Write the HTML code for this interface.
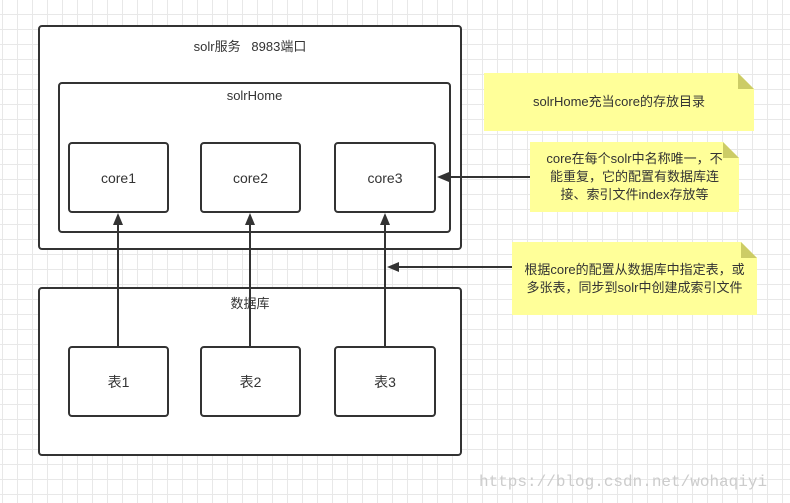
<!DOCTYPE html>
<html><head><meta charset="utf-8"><style>
body{margin:0;width:790px;height:503px;overflow:hidden;background:#fff;
background-image:linear-gradient(to right,#e8e8e8 1px,transparent 1px),linear-gradient(to bottom,#e8e8e8 1px,transparent 1px);
background-size:15px 15px;background-position:2px 14px;position:relative;
font-family:"Liberation Sans","Noto Sans CJK SC",sans-serif;color:#333;font-size:13px}
.b{position:absolute;border:2px solid #333;border-radius:4px;background:#fff;box-sizing:border-box}
.t{position:absolute;left:0;right:0;text-align:center}
.c{display:flex;align-items:center;justify-content:center;font-size:14px}
.n{position:absolute;background:#ffff99;box-sizing:border-box;display:flex;align-items:center;justify-content:center;text-align:center;font-size:13px;line-height:18px;color:#333;clip-path:polygon(0 0,calc(100% - 16px) 0,100% 16px,100% 100%,0 100%);white-space:nowrap}
.f{position:absolute;width:0;height:0;border-left:16px solid #cccc66;border-top:16px solid transparent}
</style></head><body>
<div class="b" style="left:38px;top:25px;width:424px;height:225px"><div class="t" style="top:9px">solr服务&nbsp;&nbsp;&nbsp;8983端口</div></div>
<div class="b" style="left:58px;top:82px;width:393px;height:151px"><div class="t" style="top:4px">solrHome</div></div>
<div class="b c" style="left:68px;top:142px;width:101px;height:71px">core1</div>
<div class="b c" style="left:200px;top:142px;width:101px;height:71px">core2</div>
<div class="b c" style="left:334px;top:142px;width:102px;height:71px">core3</div>
<div class="b" style="left:38px;top:287px;width:424px;height:169px"><div class="t" style="top:4px">数据库</div></div>
<div class="b c" style="left:68px;top:346px;width:101px;height:71px">表1</div>
<div class="b c" style="left:200px;top:346px;width:101px;height:71px">表2</div>
<div class="b c" style="left:334px;top:346px;width:102px;height:71px">表3</div>
<svg style="position:absolute;left:0;top:0" width="790" height="503">
<g stroke="#333" stroke-width="2" fill="#333">
<line x1="118" y1="346" x2="118" y2="224"/><polygon points="118,213 113,225 123,225" stroke="none"/>
<line x1="250" y1="346" x2="250" y2="224"/><polygon points="250,213 245,225 255,225" stroke="none"/>
<line x1="385" y1="346" x2="385" y2="224"/><polygon points="385,213 380,225 390,225" stroke="none"/>
<line x1="530" y1="177" x2="448" y2="177"/><polygon points="437,177 449,172 449,182" stroke="none"/>
<line x1="512" y1="267" x2="398" y2="267"/><polygon points="387,267 399,262 399,272" stroke="none"/>
</g></svg>
<div class="n" style="left:484px;top:73px;width:270px;height:58px">solrHome充当core的存放目录</div><div class="f" style="left:738px;top:73px"></div>
<div class="n" style="left:530px;top:142px;width:209px;height:70px">core在每个solr中名称唯一，不<br>能重复，它的配置有数据库连<br>接、索引文件index存放等</div><div class="f" style="left:723px;top:142px"></div>
<div class="n" style="left:512px;top:242px;width:245px;height:73px">根据core的配置从数据库中指定表，或<br>多张表，同步到solr中创建成索引文件</div><div class="f" style="left:741px;top:242px"></div>
<div style="position:absolute;left:479px;top:473px;font-family:'Liberation Mono',monospace;font-size:16px;color:#ccc">https://blog.csdn.net/wohaqiyi</div>
</body></html>
